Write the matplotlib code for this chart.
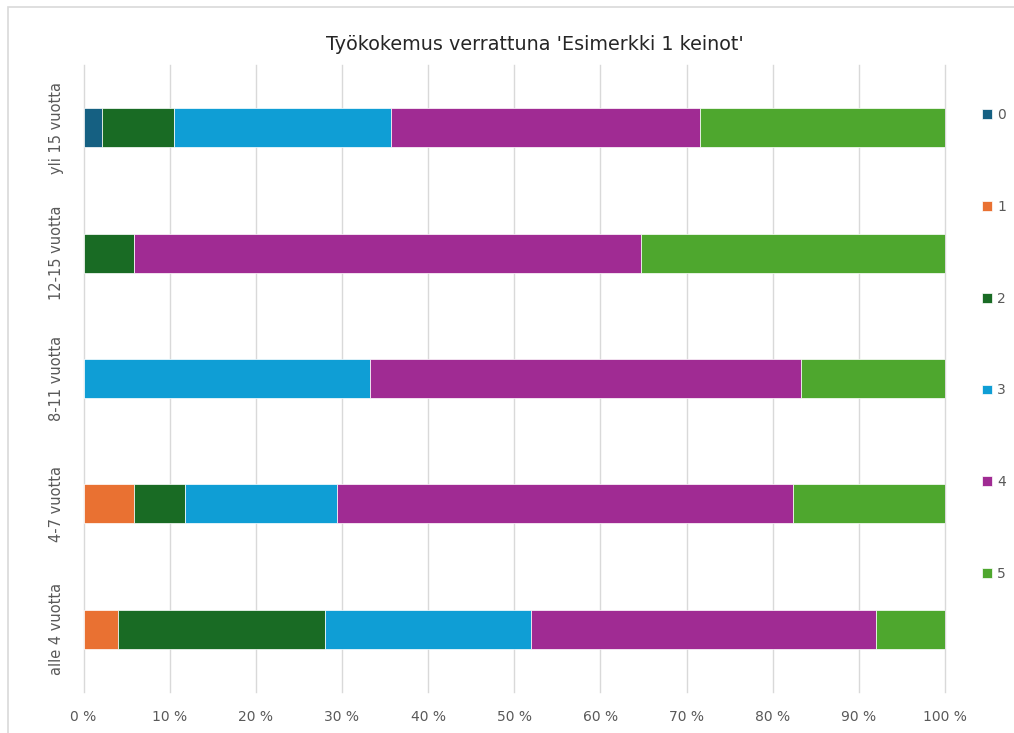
import matplotlib.pyplot as plt
from matplotlib.patches import Rectangle
from matplotlib.ticker import FuncFormatter

categories = ['alle 4 vuotta', '4-7 vuotta', '8-11 vuotta', '12-15 vuotta', 'yli 15 vuotta']
series_names = ['0', '1', '2', '3', '4', '5']
s0 = [0, 0, 0, 0, 2.1]
s1 = [4, 5.88, 0, 0, 0]
s2 = [24, 5.88, 0, 5.88, 8.4]
s3 = [24, 17.65, 33.3, 0, 25.2]
s4 = [40, 52.94, 50.0, 58.82, 35.9]
s5 = [8, 17.65, 16.7, 35.3, 28.4]
series = [s0, s1, s2, s3, s4, s5]
colors = ['#156082', '#E97132', '#196B24', '#0F9ED5', '#A02B93', '#4EA72E']

fig = plt.figure(figsize=(10.14, 7.33), dpi=100)
ax = fig.add_axes([83.5 / 1014, 1 - 692 / 733, (945 - 83.5) / 1014, (692 - 65) / 733])

# chart frame
fig.patches.append(Rectangle((8 / 1014, -0.05), 1.1, 1 - 7 / 733 + 0.05, transform=fig.transFigure,
                             fill=False, edgecolor='#d9d9d9', linewidth=1.2, clip_on=False))

ypos = list(range(len(categories)))
left = [0] * len(categories)
handles = []
for name, vals, c in zip(series_names, series, colors):
    b = ax.barh(ypos, vals, left=left, height=0.31, color=c, edgecolor='white',
                linewidth=0.5, label=name, zorder=3)
    handles.append(b)
    left = [l + v for l, v in zip(left, vals)]

ax.set_xlim(0, 100)
ax.set_ylim(-0.5, len(categories) - 0.5)
ax.set_xticks(range(0, 101, 10))
ax.xaxis.set_major_formatter(FuncFormatter(lambda v, p: f'{int(v)} %'))
ax.set_yticks(ypos)
ax.set_yticklabels(categories, rotation=90, va='center')
ax.tick_params(axis='x', length=0, pad=13, labelsize=10, labelcolor='#595959')
ax.tick_params(axis='y', length=0, pad=14, labelsize=10.5, labelcolor='#595959')
ax.grid(axis='x', color='#d9d9d9', linewidth=1, zorder=0)
for gl in ax.get_xgridlines():
    gl.set_clip_on(False)
ax.set_axisbelow(True)
for s in ax.spines.values():
    s.set_visible(False)

fig.text(535 / 1014, 1 - 45 / 733, "Työkokemus verrattuna 'Esimerkki 1 keinot'",
         ha='center', va='center', fontsize=13.8, color='#262626')

leg = fig.legend(handles=handles, labels=series_names, loc='upper left',
                 bbox_to_anchor=(982 / 1014, 1 - 108 / 733), frameon=False,
                 fontsize=10, labelcolor='#595959', handlelength=0.7, handleheight=0.7,
                 handletextpad=0.4, labelspacing=5.6, borderaxespad=0, borderpad=0)

fig.savefig('out.png', dpi=100)
